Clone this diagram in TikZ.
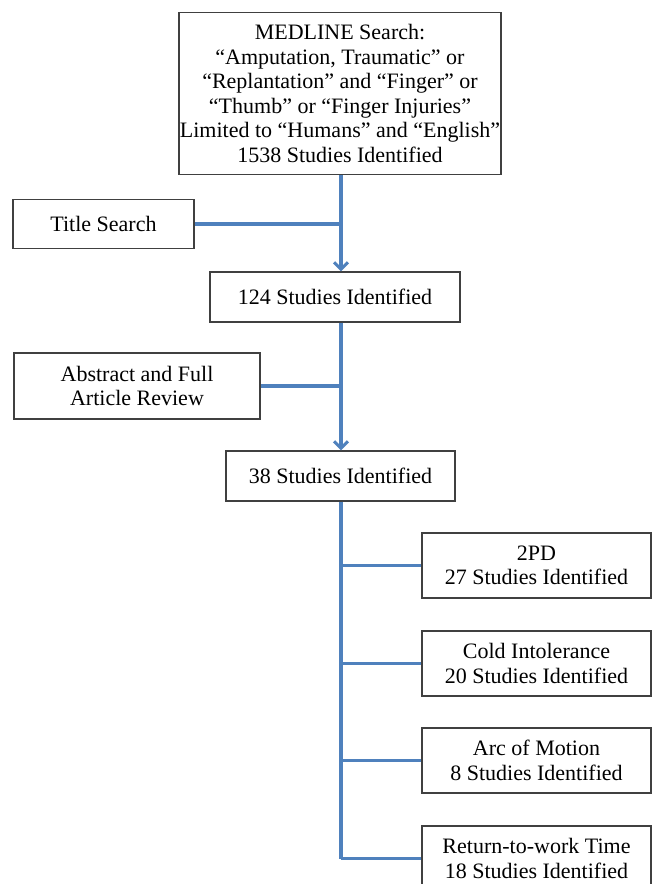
\documentclass[tikz,border=0pt]{standalone}
\usepackage{fontspec}
\setmainfont{Liberation Serif}
\usepackage{tikz}
\usetikzlibrary{arrows.meta}
\usepackage{xcolor}
\definecolor{flowblue}{RGB}{79,129,189}

\begin{document}
\begin{tikzpicture}[
  x=1pt, y=-1pt,
  % Node Styles
  sbox/.style={rectangle, draw=black!75, line width=1.2pt, fill=white, text=black, align=center, inner sep=1pt, font=\fontsize{22}{24.5}\selectfont},
  % Arrow Styles
  flowline/.style={draw=flowblue, line width=3.5pt},
  flowarrow/.style={flowline, -{Straight Barb[length=7pt, width=14pt, line width=3pt]}}
]

\useasboundingbox (0,0) rectangle (654,884);

% Diagram for: search flow

\node[sbox, minimum width=320pt, minimum height=162pt] (search) at (340,93.5) {MEDLINE Search:\\ “Amputation, Traumatic” or\\ “Replantation” and “Finger” or\\ “Thumb” or “Finger Injuries”\\ Limited to “Humans” and “English”\\ 1538 Studies Identified};
\node[sbox, minimum width=181pt, minimum height=49pt] (title) at (103.5,224) {Title Search};
\node[sbox, minimum width=250pt, minimum height=50pt] (s124) at (335,297) {124 Studies Identified};
\node[sbox, minimum width=246pt, minimum height=66pt] (review) at (137,386) {Abstract and Full\\ Article Review};
\node[sbox, minimum width=229pt, minimum height=50pt] (s38) at (340.5,476) {38 Studies Identified};

\node[sbox, minimum width=229pt, minimum height=65pt] (o_1) at (536.5,565.5) {2PD\\ 27 Studies Identified};
\node[sbox, minimum width=229pt, minimum height=65pt] (o_2) at (536.5,663.5) {Cold Intolerance\\ 20 Studies Identified};
\node[sbox, minimum width=229pt, minimum height=65pt] (o_3) at (536.5,760.5) {Arc of Motion\\ 8 Studies Identified};
\node[sbox, minimum width=229pt, minimum height=65pt] (o_4) at (536.5,858.5) {Return-to-work Time\\ 18 Studies Identified};

\coordinate (j_1) at (341,224);
\coordinate (j_2) at (341,386);
\coordinate (spine) at (341,858.5);

\draw[flowarrow] (search.south -| j_1) -- (s124.north -| j_1);
\draw[flowline] (title.east) -- (j_1);
\draw[flowarrow] (s124.south -| j_2) -- (s38.north -| j_2);
\draw[flowline] (review.east) -- (j_2);

\draw[flowline] (s38.south -| spine) -- (spine);
\foreach \i in {1,...,4}
  \draw[flowline] (o_\i.west -| spine) -- (o_\i.west);

\end{tikzpicture}
\end{document}
